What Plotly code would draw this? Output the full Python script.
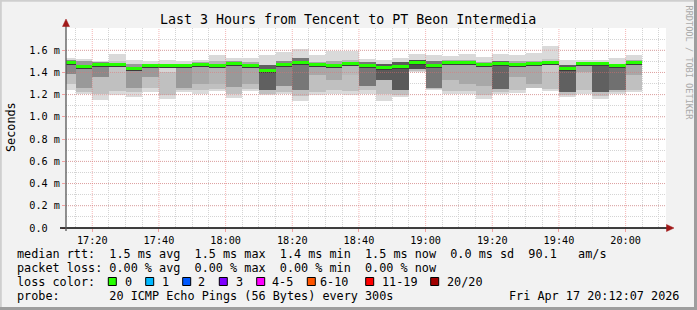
import plotly.graph_objects as go
import pandas as pd

# ---------------- data (ms) ----------------
times = pd.date_range("2026-04-17 17:12:30", periods=35, freq="5min")
max_v = [1.534, 1.525, 1.503, 1.563, 1.516, 1.503, 1.510, 1.503, 1.516, 1.557, 1.527, 1.534,
         1.554, 1.584, 1.614, 1.554, 1.593, 1.593, 1.525, 1.516, 1.534, 1.563, 1.554, 1.545,
         1.570, 1.540, 1.570, 1.554, 1.575, 1.635, 1.510, 1.510, 1.510, 1.534, 1.554]
hi_v = [1.51, 1.50, 1.49, 1.50, 1.48, 1.48, 1.48, 1.48, 1.49, 1.50, 1.50, 1.49,
        1.47, 1.50, 1.53, 1.49, 1.50, 1.51, 1.49, 1.48, 1.49, 1.51, 1.50, 1.51,
        1.51, 1.49, 1.50, 1.50, 1.50, 1.52, 1.47, 1.49, 1.49, 1.48, 1.51]
med_v = [1.485, 1.449, 1.467, 1.467, 1.438, 1.458, 1.458, 1.458, 1.470, 1.458, 1.476, 1.458,
         1.413, 1.467, 1.485, 1.467, 1.458, 1.476, 1.458, 1.440, 1.453, 1.485, 1.464, 1.491,
         1.485, 1.467, 1.476, 1.470, 1.480, 1.491, 1.438, 1.480, 1.476, 1.458, 1.490]
lo1_v = [1.39, 1.26, 1.36, 1.40, 1.26, 1.36, 1.40, 1.26, 1.30, 1.30, 1.27, 1.30,
         1.24, 1.28, 1.24, 1.38, 1.33, 1.38, 1.28, 1.33, 1.24, 1.43, 1.26, 1.33,
         1.30, 1.28, 1.25, 1.36, 1.30, 1.40, 1.22, 1.40, 1.22, 1.24, 1.38]
lo2_v = [1.30, 1.22, 1.21, 1.23, 1.22, 1.26, 1.20, 1.24, 1.24, 1.25, 1.21, 1.25,
         1.21, 1.22, 1.19, 1.22, 1.24, 1.23, 1.24, 1.21, 1.20, 1.41, 1.25, 1.23,
         1.23, 1.20, 1.22, 1.24, 1.26, 1.25, 1.20, 1.24, 1.19, 1.22, 1.24]
min_v = [1.242, 1.202, 1.151, 1.196, 1.180, 1.225, 1.160, 1.225, 1.210, 1.231, 1.170, 1.231,
         1.196, 1.204, 1.145, 1.196, 1.210, 1.196, 1.210, 1.145, 1.175, 1.405, 1.240, 1.204,
         1.210, 1.163, 1.204, 1.216, 1.256, 1.234, 1.175, 1.210, 1.157, 1.204, 1.225]
# per-column shade of the core smoke (style)
core_shade = ["#888888", "#999999", "#8a8a8a", "#c4c4c4", "#999999", "#9a9a9a", "#d6d6d6", "#9a9a9a",
              "#a8a8a8", "#b4b4b4", "#999999", "#a8a8a8", "#606060", "#888888", "#777777", "#a8a8a8",
              "#a8a8a8", "#b8b8b8", "#777777", "#5a5a5a", "#5a5a5a", "#4a4a4a", "#777777", "#a8a8a8",
              "#a8a8a8", "#a8a8a8", "#666666", "#a8a8a8", "#a8a8a8", "#c8c8c8", "#606060", "#a8a8a8",
              "#606060", "#707070", "#a8a8a8"]

y_ticks = [0, 0.2, 0.4, 0.6, 0.8, 1.0, 1.2, 1.4, 1.6]
y_labels = ["0.0\u00a0\u00a0", "0.2 m", "0.4 m", "0.6 m", "0.8 m", "1.0 m", "1.2 m", "1.4 m", "1.6 m"]
x_major = pd.date_range("2026-04-17 17:20", "2026-04-17 20:00", freq="20min")

loss_names = ["0", "1", "2", "3", "4-5", "6-10", "11-19", "20/20"]
loss_colors = ["#26ff00", "#00b8ff", "#0059ff", "#7e00ff", "#ff00ff", "#ff5500", "#ff0000", "#a10000"]

# ---------------- layout helpers ----------------
W, H = 697, 310
L, R, T, B = 66, 666, 28, 228
MONO = "DejaVu Sans Mono"


def px(x):
    return (x - L) / (R - L)


def py(y):
    return (B - y) / (B - T)


fig = go.Figure()
width_ms = 300000

fig.add_trace(go.Bar(x=times, base=min_v, y=[a - b for a, b in zip(max_v, min_v)],
                     width=width_ms, marker=dict(color="#dadada", line=dict(width=0)),
                     hoverinfo="skip"))
fig.add_trace(go.Bar(x=times, base=lo2_v, y=[a - b for a, b in zip(hi_v, lo2_v)],
                     width=width_ms, marker=dict(color="#c0c0c0", line=dict(width=0)),
                     hoverinfo="skip"))
fig.add_trace(go.Bar(x=times, base=lo1_v, y=[a - b for a, b in zip(hi_v, lo1_v)],
                     width=width_ms, marker=dict(color=core_shade, line=dict(width=0)),
                     hoverinfo="skip"))
# dark line under the median, then the green median
fig.add_trace(go.Bar(x=times, base=[m - 0.022 for m in med_v], y=[0.034] * len(med_v),
                     width=width_ms, marker=dict(color="#3c3c3c", line=dict(width=0)),
                     hoverinfo="skip"))
fig.add_trace(go.Bar(x=times, base=[m - 0.012 for m in med_v], y=[0.026] * len(med_v),
                     width=width_ms, marker=dict(color="#26ff00", line=dict(width=0)),
                     name="median"))

grid_minor = "#d4d4d4"
grid_major = "rgba(235,110,110,0.5)"
fig.update_layout(
    width=W, height=H,
    margin=dict(l=L, r=W - R, t=T, b=H - B, pad=0),
    paper_bgcolor="#f2f2f2", plot_bgcolor="#ffffff",
    barmode="overlay", bargap=0, showlegend=False,
    font=dict(family=MONO, size=10, color="#000000"),
    xaxis=dict(
        type="date", range=["2026-04-17 17:12:07", "2026-04-17 20:12:07"],
        tick0="2026-04-17 17:20:00", dtick=1200000, tickformat="%H:%M",
        showgrid=False,
        minor=dict(tick0="2026-04-17 17:15:00", dtick=300000, showgrid=True,
                   gridcolor=grid_minor, griddash="1px,1px", gridwidth=1),
        ticks="outside", ticklen=3, tickcolor="#f2a0a0",
        tickfont=dict(family=MONO, size=10.2, color="#000"),
        showline=False, zeroline=False, fixedrange=True,
    ),
    yaxis=dict(
        range=[0, 1.8], tickvals=y_ticks, ticktext=y_labels,
        showgrid=False,
        minor=dict(dtick=0.1, tick0=0, showgrid=True, gridcolor=grid_minor,
                   griddash="1px,1px", gridwidth=1),
        ticks="outside", ticklen=3, tickcolor="#f2a0a0",
        tickfont=dict(family=MONO, size=10.2, color="#000"),
        showline=False, zeroline=False, fixedrange=True,
    ),
)

shapes = []
# major grid drawn above the smoke (rrdtool draws grid on top)
for xv in x_major:
    shapes.append(dict(type="line", xref="x", yref="paper", x0=xv, x1=xv, y0=0, y1=1, layer="above",
                       line=dict(color=grid_major, width=1, dash="1px,1px")))
for yv in y_ticks[1:]:
    shapes.append(dict(type="line", xref="paper", yref="y", x0=0, x1=1, y0=yv, y1=yv, layer="above",
                       line=dict(color=grid_major, width=1, dash="1px,1px")))
# axes
shapes.append(dict(type="line", xref="paper", yref="paper", x0=px(60), x1=px(669), y0=py(228), y1=py(228),
                   line=dict(color="#000000", width=1.3)))
shapes.append(dict(type="line", xref="paper", yref="paper", x0=px(66), x1=px(66), y0=py(231), y1=py(25),
                   line=dict(color="#555555", width=1.3)))
shapes.append(dict(type="path", xref="paper", yref="paper",
                   path=f"M {px(666.5)},{py(224.5)} L {px(674)},{py(228)} L {px(666.5)},{py(231.5)} Z",
                   fillcolor="#a01818", line=dict(color="#a01818", width=0.5)))
shapes.append(dict(type="path", xref="paper", yref="paper",
                   path=f"M {px(62.5)},{py(26.5)} L {px(66)},{py(19)} L {px(69.5)},{py(26.5)} Z",
                   fillcolor="#a01818", line=dict(color="#a01818", width=0.5)))
# frame
shapes.append(dict(type="line", xref="paper", yref="paper", x0=px(0), x1=px(697), y0=py(0.8), y1=py(0.8),
                   line=dict(color="#cfcfcf", width=2)))
shapes.append(dict(type="line", xref="paper", yref="paper", x0=px(0.8), x1=px(0.8), y0=py(0), y1=py(310),
                   line=dict(color="#cfcfcf", width=2)))
shapes.append(dict(type="line", xref="paper", yref="paper", x0=px(0), x1=px(697), y0=py(308.5), y1=py(308.5),
                   line=dict(color="#9e9e9e", width=3)))
shapes.append(dict(type="line", xref="paper", yref="paper", x0=px(695.5), x1=px(695.5), y0=py(0), y1=py(310),
                   line=dict(color="#9e9e9e", width=3)))

annotations = []


def text(x, y, s, xanchor="left", size=11.8, color="#000000", angle=0, yanchor="middle"):
    annotations.append(dict(x=px(x), y=py(y), xref="paper", yref="paper", text=s.replace(" ", "\u00a0"),
                            showarrow=False, xanchor=xanchor, yanchor=yanchor, textangle=angle,
                            font=dict(family=MONO, size=size, color=color)))


text(348, 19, "Last 3 Hours from Tencent to PT Beon Intermedia", xanchor="center", size=13.3)
text(11, 127, "Seconds", xanchor="center", angle=-90)
text(688.5, 63, "RRDTOOL / TOBI OETIKER", xanchor="center", size=8.6, color="#aaaaaa", angle=90)
text(15, 254, "median rtt:  1.5 ms avg  1.5 ms max  1.4 ms min  1.5 ms now  0.0 ms sd  90.1   am/s")
text(15, 268, "packet loss: 0.00 % avg  0.00 % max  0.00 % min  0.00 % now")
text(15, 282, "loss color:")
text(15, 296, "probe:       20 ICMP Echo Pings (56 Bytes) every 300s")
text(681, 296, "Fri Apr 17 20:12:07 2026", xanchor="right")

box_x = [108.3, 145.7, 182.7, 219.3, 256.7, 307.3, 365.7, 430.7]
label_x = [122.5, 160, 196, 233.5, 270, 317.5, 380, 445]
for bx, lx, nm, col in zip(box_x, label_x, loss_names, loss_colors):
    shapes.append(dict(type="rect", xref="paper", yref="paper", x0=px(bx), x1=px(bx + 8),
                       y0=py(277.5), y1=py(285.5), fillcolor=col, line=dict(color="#000000", width=1)))
    text(lx, 282, nm)

fig.update_layout(shapes=shapes, annotations=annotations)
fig.write_html("out.html")
